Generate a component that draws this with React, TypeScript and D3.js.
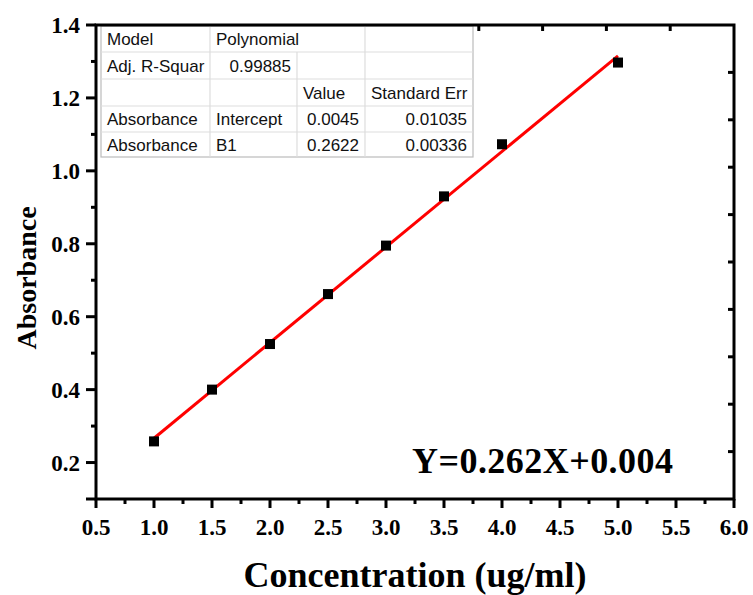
import React, { useEffect, useRef } from 'react';
import * as d3 from 'd3';

// calibration points
const concentration = [1.0, 1.5, 2.0, 2.5, 3.0, 3.5, 4.0, 5.0];
const absorbance = [0.258, 0.4, 0.525, 0.662, 0.795, 0.93, 1.073, 1.297];

const fitIntercept = 0.0045;
const fitSlope = 0.2622;

const xTicks = [0.5, 1.0, 1.5, 2.0, 2.5, 3.0, 3.5, 4.0, 4.5, 5.0, 5.5, 6.0];
const yTicks = [0.2, 0.4, 0.6, 0.8, 1.0, 1.2, 1.4];

const tableRows = [
  ['Model', 'Polynomial', '', ''],
  ['Adj. R-Squar', '0.99885', '', ''],
  ['', '', 'Value', 'Standard Err'],
  ['Absorbance', 'Intercept', '0.0045', '0.01035'],
  ['Absorbance', 'B1', '0.2622', '0.00336'],
];

const equationLabel = 'Y=0.262X+0.004';

const W = 753;
const H = 595;

export default function App() {
  const ref = useRef<SVGSVGElement | null>(null);

  useEffect(() => {
    const svg = d3.select(ref.current);
    svg.selectAll('*').remove();

    const left = 96, right = 734, top = 25, bottom = 499;
    const serif = "'Liberation Serif', 'Times New Roman', serif";
    const sans = "'Liberation Sans', Arial, sans-serif";

    const x = d3.scaleLinear().domain([0.5, 6.0]).range([left, right]);
    const y = d3.scaleLinear().domain([0.1, 1.4]).range([bottom, top]);

    // top / right frame has its own 10 divisions
    const topScale = d3.scaleLinear().domain([0, 10]).range([left, right]);
    const rightScale = d3.scaleLinear().domain([0, 10]).range([bottom, top]);

    const g = svg.append('g');

    // minor ticks
    g.selectAll('.xminor')
      .data(d3.range(0.75, 6, 0.5))
      .enter().append('line')
      .attr('x1', d => x(d)).attr('x2', d => x(d))
      .attr('y1', bottom).attr('y2', bottom + 5)
      .attr('stroke', '#000').attr('stroke-width', 3);

    g.selectAll('.yminor')
      .data(d3.range(0.3, 1.4, 0.2))
      .enter().append('line')
      .attr('x1', left - 5).attr('x2', left)
      .attr('y1', d => y(d)).attr('y2', d => y(d))
      .attr('stroke', '#000').attr('stroke-width', 3);

    // major ticks
    g.selectAll('.xmajor')
      .data(xTicks)
      .enter().append('line')
      .attr('x1', d => x(d)).attr('x2', d => x(d))
      .attr('y1', bottom).attr('y2', bottom + 9)
      .attr('stroke', '#000').attr('stroke-width', 3);

    g.selectAll('.ymajor')
      .data(yTicks.concat([0.1]))
      .enter().append('line')
      .attr('x1', left - 10).attr('x2', left)
      .attr('y1', d => y(d)).attr('y2', d => y(d))
      .attr('stroke', '#000').attr('stroke-width', 3);

    g.selectAll('.topt')
      .data(d3.range(1, 10))
      .enter().append('line')
      .attr('x1', d => topScale(d)).attr('x2', d => topScale(d))
      .attr('y1', top).attr('y2', top + 6)
      .attr('stroke', '#000').attr('stroke-width', 3);

    g.selectAll('.rightt')
      .data(d3.range(1, 10))
      .enter().append('line')
      .attr('x1', right - 6).attr('x2', right)
      .attr('y1', d => rightScale(d)).attr('y2', d => rightScale(d))
      .attr('stroke', '#000').attr('stroke-width', 3);

    // tick labels
    g.selectAll('.xlab')
      .data(xTicks)
      .enter().append('text')
      .attr('x', d => x(d))
      .attr('y', 535)
      .attr('text-anchor', 'middle')
      .attr('font-family', serif)
      .attr('font-weight', 'bold')
      .attr('font-size', '23px')
      .text(d => d.toFixed(1));

    g.selectAll('.ylab')
      .data(yTicks)
      .enter().append('text')
      .attr('x', 80)
      .attr('y', d => y(d) + 8)
      .attr('text-anchor', 'end')
      .attr('font-family', serif)
      .attr('font-weight', 'bold')
      .attr('font-size', '23px')
      .text(d => d.toFixed(1));

    // fit line
    const fit = d3.line<number>()
      .x(d => x(d))
      .y(d => y(fitSlope * d + fitIntercept));
    g.append('path')
      .datum([concentration[0], concentration[concentration.length - 1]])
      .attr('d', fit)
      .attr('fill', 'none')
      .attr('stroke', '#ff0000')
      .attr('stroke-width', 3);

    // points
    g.selectAll('.pt')
      .data(concentration)
      .enter().append('rect')
      .attr('x', d => x(d) - 5)
      .attr('y', (d, i) => y(absorbance[i]) - 5)
      .attr('width', 10).attr('height', 10)
      .attr('fill', '#000');

    // table
    const colX = [101, 210, 297, 365, 473];
    const rowY = [26, 52, 79, 106, 132, 157];
    const tbl = g.append('g');
    tbl.append('rect')
      .attr('x', colX[0]).attr('y', rowY[0])
      .attr('width', colX[4] - colX[0]).attr('height', rowY[5] - rowY[0])
      .attr('fill', '#fff').attr('stroke', '#bbb').attr('stroke-width', 1.2);
    rowY.slice(1, 5).forEach(ry => {
      tbl.append('line')
        .attr('x1', colX[0]).attr('x2', colX[4])
        .attr('y1', ry).attr('y2', ry)
        .attr('stroke', '#ddd').attr('stroke-width', 1.2);
    });
    colX.slice(1, 4).forEach((cx, ci) => {
      tbl.append('line')
        .attr('x1', cx).attr('x2', cx)
        .attr('y1', ci === 1 ? rowY[1] : rowY[0]).attr('y2', rowY[5])
        .attr('stroke', '#ddd').attr('stroke-width', 1.2);
    });
    tableRows.forEach((row, ri) => {
      row.forEach((cell, ci) => {
        if (!cell) return;
        let anchor = 'start';
        let tx = colX[ci] + 6;
        if ((ri === 1 && ci === 1) || (ri >= 3 && ci >= 2)) {
          anchor = 'end';
          tx = colX[ci + 1] - 6;
        }
        tbl.append('text')
          .attr('x', tx)
          .attr('y', (rowY[ri] + rowY[ri + 1]) / 2 + 6)
          .attr('text-anchor', anchor)
          .attr('font-family', sans)
          .attr('font-size', '17px')
          .attr('fill', '#111')
          .text(cell);
      });
    });

    // axis frame
    g.append('rect')
      .attr('x', left).attr('y', top)
      .attr('width', right - left).attr('height', bottom - top)
      .attr('fill', 'none').attr('stroke', '#000').attr('stroke-width', 3);

    // equation
    g.append('text')
      .attr('x', 412).attr('y', 473)
      .attr('font-family', serif)
      .attr('font-weight', 'bold')
      .attr('font-size', '36px')
      .attr('textLength', 261)
      .text(equationLabel);

    // axis titles
    g.append('text')
      .attr('x', 415).attr('y', 587)
      .attr('text-anchor', 'middle')
      .attr('font-family', serif)
      .attr('font-weight', 'bold')
      .attr('font-size', '36px')
      .text('Concentration (ug/ml)');

    g.append('text')
      .attr('transform', 'translate(36,278) rotate(-90)')
      .attr('text-anchor', 'middle')
      .attr('font-family', serif)
      .attr('font-weight', 'bold')
      .attr('font-size', '28px')
      .text('Absorbance');
  }, []);

  return (
    <svg ref={ref} width={W} height={H} viewBox={`0 0 ${W} ${H}`}
      style={{ position: 'absolute', left: 0, top: 0, background: '#fff' }} />
  );
}
